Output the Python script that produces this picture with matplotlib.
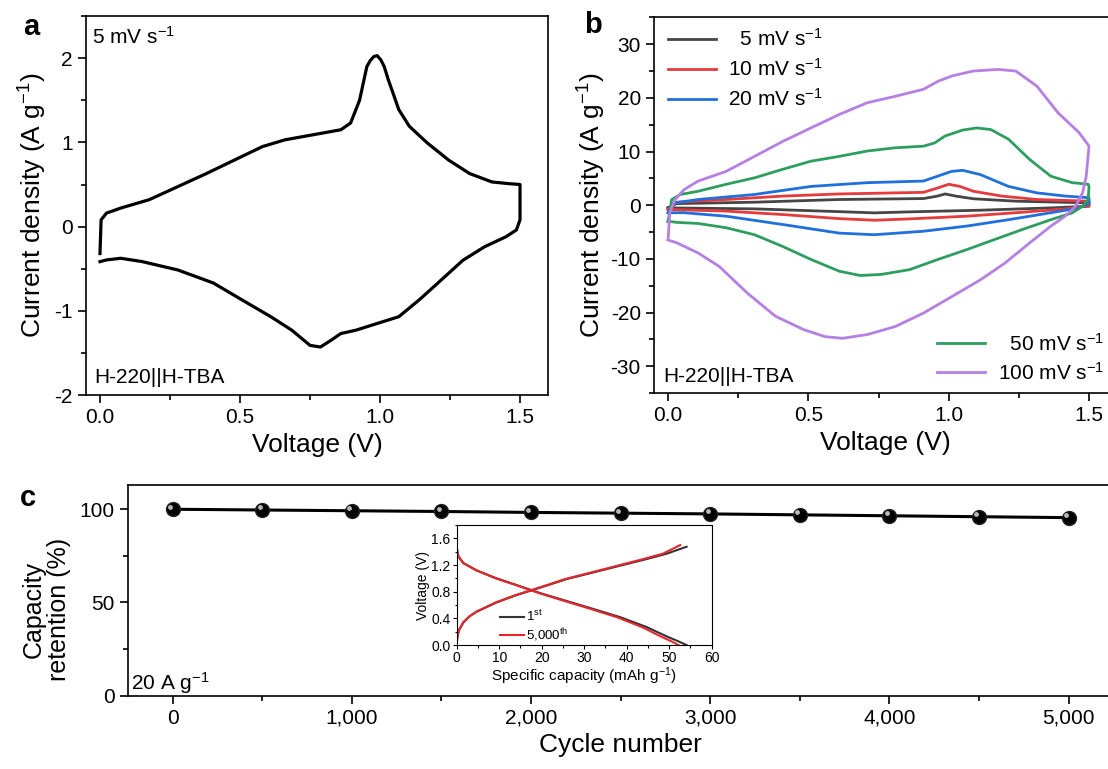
import matplotlib
matplotlib.use("Agg")
import matplotlib.pyplot as plt
from matplotlib.ticker import MultipleLocator, FuncFormatter
from matplotlib.transforms import offset_copy

# ---- panel a: CV at 5 mV/s ----
a_volt = [0, 0.004, 0.023, 0.074, 0.176, 0.278, 0.38, 0.48, 0.58, 0.66, 0.76, 0.86, 0.895,
          0.927, 0.94, 0.953, 0.965, 0.978, 0.99, 1.003, 1.015, 1.03, 1.045, 1.067, 1.105,
          1.17, 1.245, 1.32, 1.4, 1.46, 1.5,
          1.5, 1.487, 1.45, 1.373, 1.296, 1.22, 1.14, 1.067, 0.99, 0.914, 0.86, 0.825,
          0.787, 0.75, 0.685, 0.61, 0.507, 0.405, 0.278, 0.15, 0.074, 0.023, 0]
a_curr = [-0.32, 0.08, 0.16, 0.22, 0.32, 0.475, 0.63, 0.79, 0.95, 1.03, 1.09, 1.15, 1.23,
          1.5, 1.7, 1.9, 1.97, 2.02, 2.03, 1.98, 1.9, 1.74, 1.6, 1.39, 1.19,
          0.99, 0.79, 0.63, 0.53, 0.51, 0.50,
          0.08, -0.04, -0.12, -0.24, -0.40, -0.63, -0.87, -1.07, -1.15, -1.23, -1.27, -1.35,
          -1.43, -1.41, -1.23, -1.07, -0.87, -0.67, -0.515, -0.415, -0.376, -0.396, -0.416]

# ---- panel b: CV at different scan rates ----
cv5_v = [0, 0.03, 0.308, 0.61, 0.91, 0.96, 0.987, 1.025, 1.088, 1.239, 1.5,
         1.5, 1.364, 1.113, 0.861, 0.735, 0.61, 0.308, 0]
cv5_i = [-0.5, 0.3, 0.56, 1.06, 1.24, 1.7, 2.1, 1.7, 1.2, 0.75, 0.44,
         -0.19, -0.5, -0.93, -1.24, -1.43, -1.2, -0.68, -0.5]

cv10_v = [0, 0.03, 0.207, 0.409, 0.61, 0.81, 0.91, 0.96, 1.0, 1.04, 1.088, 1.189, 1.314, 1.5,
          1.5, 1.415, 1.239, 1.063, 0.861, 0.735, 0.61, 0.409, 0.207, 0]
cv10_i = [-0.8, 0.56, 1.06, 1.7, 2.1, 2.3, 2.4, 3.2, 3.9, 3.5, 2.6, 1.7, 1.06, 0.75,
          -0.06, -0.7, -1.4, -2.05, -2.55, -2.8, -2.5, -1.74, -1.1, -0.8]

cv20_v = [0, 0.019, 0.107, 0.308, 0.509, 0.71, 0.91, 0.96, 1.01, 1.05, 1.113, 1.213, 1.314,
          1.415, 1.5, 1.5, 1.465, 1.364, 1.213, 1.063, 0.91, 0.735, 0.61, 0.409, 0.207, 0.057, 0]
cv20_i = [-1.4, 0.4, 1.06, 2.0, 3.5, 4.2, 4.5, 5.4, 6.3, 6.5, 5.7, 3.5, 2.3,
          1.7, 1.4, 0.4, -0.5, -1.4, -2.7, -3.9, -4.85, -5.5, -5.2, -3.6, -2.05, -1.4, -1.4]

cv50_v = [0, 0.013, 0.044, 0.107, 0.207, 0.308, 0.409, 0.509, 0.61, 0.71, 0.81, 0.91, 0.95,
          0.987, 1.05, 1.1, 1.15, 1.213, 1.289, 1.364, 1.44, 1.497,
          1.5, 1.497, 1.477, 1.44, 1.364, 1.264, 1.163, 1.063, 0.962, 0.861, 0.76, 0.685,
          0.61, 0.509, 0.409, 0.308, 0.207, 0.107, 0.031, 0]
cv50_i = [-3.0, 1.06, 2.0, 2.6, 3.9, 5.1, 6.7, 8.2, 9.1, 10.1, 10.7, 11.0, 11.6,
          12.9, 14.0, 14.4, 14.1, 12.3, 8.5, 5.4, 4.2, 3.9,
          3.5, 1.06, -0.2, -1.43, -2.7, -4.5, -6.4, -8.3, -10.1, -12.0, -12.9, -13.1,
          -12.3, -10.1, -7.7, -5.5, -4.2, -3.4, -3.2, -3.0]

cv100_v = [0, 0.006, 0.025, 0.057, 0.107, 0.207, 0.308, 0.409, 0.509, 0.61, 0.71, 0.81, 0.91,
           0.962, 1.012, 1.088, 1.176, 1.239, 1.314, 1.39, 1.465, 1.5,
           1.49, 1.477, 1.452, 1.415, 1.364, 1.289, 1.2, 1.113, 1.012, 0.91, 0.81, 0.71,
           0.622, 0.56, 0.484, 0.383, 0.283, 0.182, 0.107, 0.031, 0]
cv100_i = [-6.4, -1.4, 1.06, 2.9, 4.5, 6.3, 9.1, 11.9, 14.4, 16.9, 19.1, 20.3, 21.6,
           23.1, 24.1, 25.0, 25.3, 25.0, 22.2, 17.2, 13.5, 11.0,
           5.4, 2.3, -0.2, -2.05, -3.9, -7.0, -10.8, -13.9, -17.0, -20.1, -22.6, -24.1,
           -24.8, -24.5, -23.2, -20.7, -16.4, -11.4, -8.9, -7.0, -6.5]

# ---- panel c: cycling ----
cycles = [0, 500, 1000, 1500, 2000, 2500, 3000, 3500, 4000, 4500, 5000]
retention = [100, 99.6, 99.2, 98.8, 98.3, 97.9, 97.5, 97.0, 96.5, 96.0, 95.5]

# inset: GCD curves, 1st and 5,000th cycle
ch1_cap = [0, 0.1, 0.5, 1.6, 3, 4.7, 9.4, 14.1, 19.6, 25.9, 32.2, 38.4, 44.7, 49.4, 54.1]
ch1_volt = [0, 0.1, 0.22, 0.34, 0.43, 0.5, 0.64, 0.75, 0.86, 0.99, 1.09, 1.19, 1.29, 1.37, 1.475]
ch5k_cap = [0, 0.1, 0.5, 1.5, 3, 4.6, 9.2, 13.9, 19.3, 25.5, 31.7, 37.8, 43.9, 48.5, 52.6]
ch5k_volt = [0, 0.1, 0.22, 0.34, 0.43, 0.5, 0.64, 0.75, 0.86, 0.99, 1.09, 1.19, 1.29, 1.37, 1.5]
dis1_cap = [0, 0.1, 0.4, 1.6, 4.7, 9.4, 14.1, 19.6, 25.9, 32.2, 38.4, 44.7, 49.4, 52, 54.1]
dis1_volt = [1.5, 1.42, 1.33, 1.23, 1.12, 1.0, 0.9, 0.78, 0.66, 0.54, 0.42, 0.27, 0.13, 0.06, 0]
dis5k_cap = [0, 0.1, 0.4, 1.5, 4.6, 9.2, 13.9, 19.3, 25.4, 31.6, 37.6, 43.6, 48.0, 50.4, 52.2]
dis5k_volt = [1.5, 1.42, 1.33, 1.23, 1.12, 1.0, 0.9, 0.78, 0.66, 0.54, 0.42, 0.27, 0.13, 0.06, 0]

plt.rcParams['font.family'] = ['Liberation Sans', 'DejaVu Sans']
plt.rcParams['mathtext.default'] = 'regular'
plt.rcParams['axes.unicode_minus'] = False
plt.rcParams['axes.linewidth'] = 1.2
plt.rcParams['lines.solid_joinstyle'] = 'round'

TICK = 15
LABEL = 19


def style_ticks(ax, xmaj, xmin, ymaj, ymin, size=TICK, big=6, small=3.5):
    ax.xaxis.set_major_locator(MultipleLocator(xmaj))
    ax.xaxis.set_minor_locator(MultipleLocator(xmin))
    ax.yaxis.set_major_locator(MultipleLocator(ymaj))
    ax.yaxis.set_minor_locator(MultipleLocator(ymin))
    ax.tick_params(which='major', direction='out', length=big, width=1.2, labelsize=size)
    ax.tick_params(which='minor', direction='out', length=small, width=1.2)


def main():
    fig = plt.figure(figsize=(11.08, 7.69), dpi=100)

    # panel a
    ax1 = fig.add_axes([0.0776, 0.4863, 0.4170, 0.4928])
    ax1.plot(a_volt, a_curr, color='black', lw=2.3)
    ax1.set_xlim(-0.05, 1.6)
    ax1.set_ylim(-2, 2.5)
    style_ticks(ax1, 0.5, 0.25, 1, 0.5)
    ax1.xaxis.set_major_formatter(FuncFormatter(lambda v, p: f"{v:.1f}"))
    ax1.set_xlabel("Voltage (V)", fontsize=LABEL)
    ax1.set_ylabel("Current density (A g$^{-1}$)", fontsize=LABEL)
    ax1.text(0.012, 0.975, "5 mV s$^{-1}$", transform=ax1.transAxes, fontsize=15, va='top')
    ax1.text(0.018, 0.045, "H-220||H-TBA", transform=ax1.transAxes, fontsize=15, va='center')
    fig.text(0.028, 0.965, "a", fontsize=21, fontweight='bold', ha='center', va='center')

    # panel b
    ax2 = fig.add_axes([0.5903, 0.4889, 0.4179, 0.4885])
    l5, = ax2.plot(cv5_v, cv5_i, color='#454545', lw=2)
    l10, = ax2.plot(cv10_v, cv10_i, color='#e63a3c', lw=2)
    l20, = ax2.plot(cv20_v, cv20_i, color='#1f6fdc', lw=2)
    l50, = ax2.plot(cv50_v, cv50_i, color='#2e9e60', lw=2)
    l100, = ax2.plot(cv100_v, cv100_i, color='#b57fe4', lw=2)
    ax2.set_xlim(-0.05, 1.6)
    ax2.set_ylim(-35, 35)
    style_ticks(ax2, 0.5, 0.25, 10, 5)
    ax2.xaxis.set_major_formatter(FuncFormatter(lambda v, p: f"{v:.1f}"))
    ax2.set_xlabel("Voltage (V)", fontsize=LABEL)
    ax2.set_ylabel("Current density (A g$^{-1}$)", fontsize=LABEL, labelpad=2)
    leg1 = ax2.legend([l5, l10, l20], ["  5 mV s$^{-1}$", "10 mV s$^{-1}$", "20 mV s$^{-1}$"],
                      loc='upper left', bbox_to_anchor=(0.03, 0.972), frameon=False,
                      fontsize=15, borderpad=0, borderaxespad=0, handlelength=2.3,
                      handletextpad=0.6, labelspacing=0.4)
    ax2.add_artist(leg1)
    ax2.legend([l50, l100], ["  50 mV s$^{-1}$", "100 mV s$^{-1}$"],
               loc='lower left', bbox_to_anchor=(0.612, 0.025), frameon=False,
               fontsize=15, borderpad=0, borderaxespad=0, handlelength=2.3,
               handletextpad=0.6, labelspacing=0.35)
    ax2.text(0.02, 0.045, "H-220||H-TBA", transform=ax2.transAxes, fontsize=15, va='center')
    fig.text(0.535, 0.968, "b", fontsize=21, fontweight='bold', ha='center', va='center')

    # panel c
    ax3 = fig.add_axes([0.1153, 0.0953, 0.8895, 0.2740])
    ax3.plot(cycles, retention, color='black', lw=2.2, marker='o', ms=10,
             mfc='black', mec='#222222', zorder=3)
    shine = offset_copy(ax3.transData, fig=fig, x=-1.8, y=1.8, units='points')
    ax3.plot(cycles, retention, ls='none', marker='o', ms=3.5, mfc='#b8b8b8',
             mec='none', transform=shine, zorder=4)
    ax3.set_xlim(-250, 5250)
    ax3.set_ylim(0, 113)
    style_ticks(ax3, 1000, 500, 50, 25)
    ax3.xaxis.set_major_formatter(FuncFormatter(lambda v, p: f"{v:,.0f}"))
    ax3.set_xlabel("Cycle number", fontsize=LABEL)
    fig.text(0.042, 0.207, "Capacity\nretention (%)", fontsize=18, rotation=90,
             ha='center', va='center', multialignment='center', linespacing=1.05)
    ax3.text(0.003, 0.0, "20 A g$^{-1}$", transform=ax3.transAxes, fontsize=15, va='bottom')
    fig.text(0.025, 0.353, "c", fontsize=21, fontweight='bold', ha='center', va='center')

    # inset
    axi = fig.add_axes([0.4122, 0.1612, 0.2301, 0.1560])
    li1, = axi.plot(ch1_cap, ch1_volt, color='#333333', lw=1.5)
    axi.plot(dis1_cap, dis1_volt, color='#333333', lw=1.5)
    li2, = axi.plot(ch5k_cap, ch5k_volt, color='#e8252b', lw=1.5)
    axi.plot(dis5k_cap, dis5k_volt, color='#e8252b', lw=1.5)
    axi.set_xlim(0, 60)
    axi.set_ylim(0, 1.8)
    for s in axi.spines.values():
        s.set_linewidth(0.8)
    style_ticks(axi, 10, 5, 0.4, 0.2, size=10, big=3, small=1.8)
    axi.tick_params(which='both', width=0.8, pad=1.5)
    axi.yaxis.set_major_formatter(FuncFormatter(lambda v, p: f"{v:.1f}"))
    axi.set_xlabel("Specific capacity (mAh g$^{-1}$)", fontsize=11, labelpad=0)
    axi.set_ylabel("Voltage (V)", fontsize=10, labelpad=1)
    axi.legend([li1, li2], ["1$^{st}$", "5,000$^{th}$"], loc='lower left',
               bbox_to_anchor=(0.17, 0.01), frameon=False, fontsize=9.5, borderpad=0,
               borderaxespad=0, handlelength=1.8, handletextpad=0.2, labelspacing=0.15)

    fig.savefig("out.png", dpi=100)


if __name__ == "__main__":
    main()
